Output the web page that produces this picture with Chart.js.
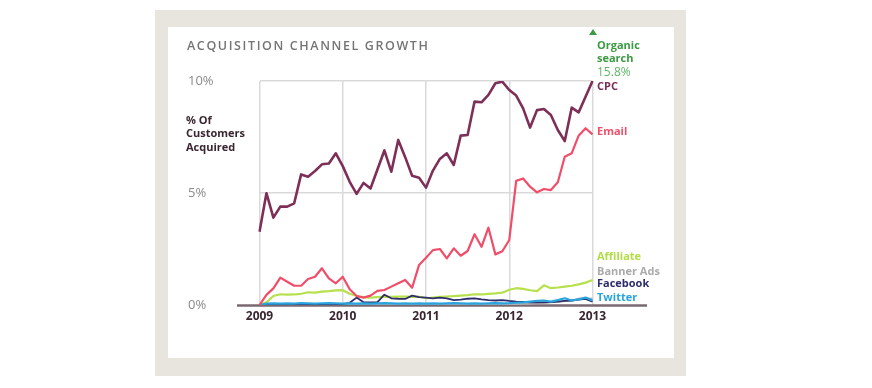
<!DOCTYPE html>
<html>
<head>
<meta charset="utf-8">
<script src="https://cdn.jsdelivr.net/npm/chart.js@4.4.1/dist/chart.umd.min.js"></script>
<style>
  html, body { margin: 0; padding: 0; background: #fff; }
  body { width: 872px; height: 388px; position: relative; overflow: hidden; font-family: "Open Sans", sans-serif; }
  #frame { position: absolute; left: 155px; top: 10px; width: 531px; height: 366px; background: #e8e5df; }
  #panel { position: absolute; left: 168px; top: 27px; width: 506px; height: 331px; background: #fff; }
  #chart { position: absolute; left: 0; top: 0; }
  .txt { position: absolute; white-space: nowrap; font-size: 11px; font-weight: 700; line-height: 14px; }
  #title { left: 187px; top: 39px; font-size: 12.5px; font-weight: 600; letter-spacing: 1.6px; color: #747474; }
  #ylabel { left: 186px; top: 113px; line-height: 13.4px; color: #3a2630; }
  #arrow { position: absolute; left: 589px; top: 29px; width: 0; height: 0;
           border-left: 4px solid transparent; border-right: 4px solid transparent; border-bottom: 6px solid #3c9a42; }
</style>
</head>
<body>
<div id="frame"></div>
<div id="panel"></div>
<canvas id="chart" width="872" height="388"></canvas>

<div id="title" class="txt">ACQUISITION CHANNEL GROWTH</div>
<div id="ylabel" class="txt">% Of<br>Customers<br>Acquired</div>
<div id="arrow"></div>
<div class="txt" style="left:597px;top:38px;color:#3c9a42">Organic</div>
<div class="txt" style="left:597px;top:51px;color:#3c9a42">search</div>
<div class="txt" style="left:597px;top:65px;color:#5fb865;font-weight:400;font-size:12px">15.8%</div>
<div class="txt" style="left:597px;top:79px;color:#7a2d55">CPC</div>
<div class="txt" style="left:597px;top:124px;color:#f0506c">Email</div>
<div class="txt" style="left:597px;top:249px;color:#b2dc48">Affiliate</div>
<div class="txt" style="left:597px;top:264px;color:#ababab">Banner Ads</div>
<div class="txt" style="left:597px;top:276px;color:#2c2d6a">Facebook</div>
<div class="txt" style="left:597px;top:290px;color:#2aa4dc">Twitter</div>

<script>
// monthly points, Jan 2009 .. Jan 2013
const years = [2009, 2010, 2011, 2012, 2013];
const months = [];
years.forEach((y, i) => {
  const n = i < years.length - 1 ? 12 : 1;
  for (let m = 1; m <= n; m++) months.push(y + "-" + String(m).padStart(2, "0"));
});

const yTicks = [0, 5, 10];

const cpc = [3.27, 4.99, 3.9, 4.39, 4.39, 4.54, 5.83, 5.73, 5.98, 6.28, 6.32, 6.77,
  6.2, 5.5, 4.96, 5.45, 5.2, 6.05, 6.9, 5.95, 7.37, 6.6, 5.77, 5.68,
  5.24, 6.0, 6.52, 6.77, 6.25, 7.56, 7.59, 9.08, 9.05, 9.38, 9.9, 9.97,
  9.6, 9.35, 8.78, 7.92, 8.7, 8.75, 8.48, 7.81, 7.32, 8.81, 8.6, 9.3,
  10.0];

const email = [0, 0.45, 0.74, 1.22, 1.04, 0.86, 0.86, 1.16, 1.26, 1.64, 1.19, 0.97,
  1.26, 0.7, 0.4, 0.33, 0.42, 0.63, 0.67, 0.82, 0.97, 1.12, 0.77, 1.79,
  2.11, 2.45, 2.5, 2.08, 2.53, 2.2, 2.41, 3.16, 2.6, 3.45, 2.26, 2.4,
  2.9, 5.54, 5.65, 5.28, 5.03, 5.18, 5.13, 5.48, 6.62, 6.77, 7.56, 7.89,
  7.62];

const affiliate = [0, 0.12, 0.4, 0.48, 0.46, 0.47, 0.5, 0.57, 0.55, 0.6, 0.62, 0.65,
  0.66, 0.5, 0.4, 0.35, 0.33, 0.35, 0.37, 0.36, 0.38, 0.37, 0.36, 0.37,
  0.3, 0.33, 0.36, 0.38, 0.4, 0.42, 0.44, 0.48, 0.47, 0.5, 0.52, 0.55,
  0.68, 0.75, 0.72, 0.66, 0.62, 0.88, 0.75, 0.78, 0.82, 0.86, 0.92, 1.0,
  1.12];

const bannerAds = [0, 0.02, 0.02, 0.03, 0.02, 0.02, 0.03, 0.02, 0.02, 0.03, 0.02, 0.02,
  0.02, 0.03, 0.02, 0.02, 0.03, 0.02, 0.02, 0.03, 0.02, 0.02, 0.03, 0.02,
  0.02, 0.03, 0.02, 0.02, 0.03, 0.02, 0.02, 0.03, 0.02, 0.02, 0.03, 0.02,
  0.03, 0.04, 0.05, 0.06, 0.08, 0.1, 0.12, 0.14, 0.17, 0.2, 0.28, 0.3,
  0.28];

const facebook = [0, 0.02, 0.02, 0.02, 0.02, 0.02, 0.02, 0.02, 0.02, 0.02, 0.02, 0.03,
  0.04, 0.1, 0.33, 0.12, 0.12, 0.13, 0.46, 0.3, 0.28, 0.27, 0.42, 0.35,
  0.33, 0.3, 0.33, 0.3, 0.22, 0.24, 0.28, 0.3, 0.25, 0.22, 0.2, 0.22,
  0.18, 0.15, 0.14, 0.12, 0.12, 0.12, 0.13, 0.15, 0.18, 0.2, 0.24, 0.27,
  0.15];

const twitter = [0, 0.06, 0.07, 0.06, 0.07, 0.06, 0.08, 0.07, 0.06, 0.07, 0.08, 0.07,
  0.06, 0.07, 0.06, 0.07, 0.06, 0.07, 0.08, 0.07, 0.06, 0.07, 0.06, 0.07,
  0.06, 0.07, 0.06, 0.07, 0.08, 0.07, 0.06, 0.07, 0.06, 0.07, 0.08, 0.07,
  0.08, 0.1, 0.12, 0.15, 0.18, 0.2, 0.15, 0.22, 0.3, 0.2, 0.25, 0.33,
  0.2];

const baseline = {
  id: "baseline",
  beforeDatasetsDraw(chart) {
    const { ctx, chartArea } = chart;
    const y = chart.scales.y.getPixelForValue(0);
    ctx.save();
    ctx.strokeStyle = "#7a6870";
    ctx.lineWidth = 2.5;
    ctx.beginPath();
    ctx.moveTo(chartArea.left - 22.5, y + 0.5);
    ctx.lineTo(chartArea.right + 54.5, y + 0.5);
    ctx.stroke();
    ctx.restore();
  },
};

Chart.defaults.font.family = "'Open Sans', sans-serif";

const line = (label, data, color, width) => ({
  label,
  data,
  borderColor: color,
  borderWidth: width,
  pointRadius: 0,
  tension: 0,
  borderJoinStyle: "round",
  fill: false,
});

new Chart(document.getElementById("chart"), {
  type: "line",
  data: {
    labels: months,
    datasets: [
      line("CPC", cpc, "#7d2f57", 2.6),
      line("Email", email, "#f14d69", 2.2),
      line("Twitter", twitter, "#2aa4dc", 2.2),
      line("Facebook", facebook, "#2c2d6a", 1.8),
      line("Banner Ads", bannerAds, "#b0b0b0", 1.8),
      line("Affiliate", affiliate, "#b6e04c", 2.2),
    ],
  },
  plugins: [baseline],
  options: {
    responsive: false,
    animation: false,
    layout: { padding: { left: 188, right: 279.5, top: 81, bottom: 53 } },
    plugins: { legend: { display: false }, tooltip: { enabled: false } },
    scales: {
      x: {
        afterFit: (s) => { s.height = 30; },
        border: { display: false },
        grid: {
          drawTicks: false,
          lineWidth: 1.5,
          color: (c) => (c.index % 12 === 0 ? "#dadada" : "transparent"),
        },
        ticks: {
          autoSkip: false,
          maxRotation: 0,
          padding: 4,
          color: "#3a2630",
          font: { size: 12, weight: "bold" },
          callback: (v, i) => (i % 12 === 0 ? months[i].slice(0, 4) : ""),
        },
      },
      y: {
        min: 0,
        max: 10,
        afterFit: (s) => { s.width = 71.5; },
        afterBuildTicks: (s) => { s.ticks = yTicks.map((v) => ({ value: v })); },
        border: { display: false },
        grid: {
          drawTicks: false,
          lineWidth: 1.5,
          color: (c) => (c.tick.value === 0 ? "transparent" : "#dadada"),
        },
        ticks: {
          crossAlign: "far",
          color: "#8a8a8a",
          font: { size: 13 },
          callback: (v) => v + "%",
        },
      },
    },
  },
});
</script>
</body>
</html>
